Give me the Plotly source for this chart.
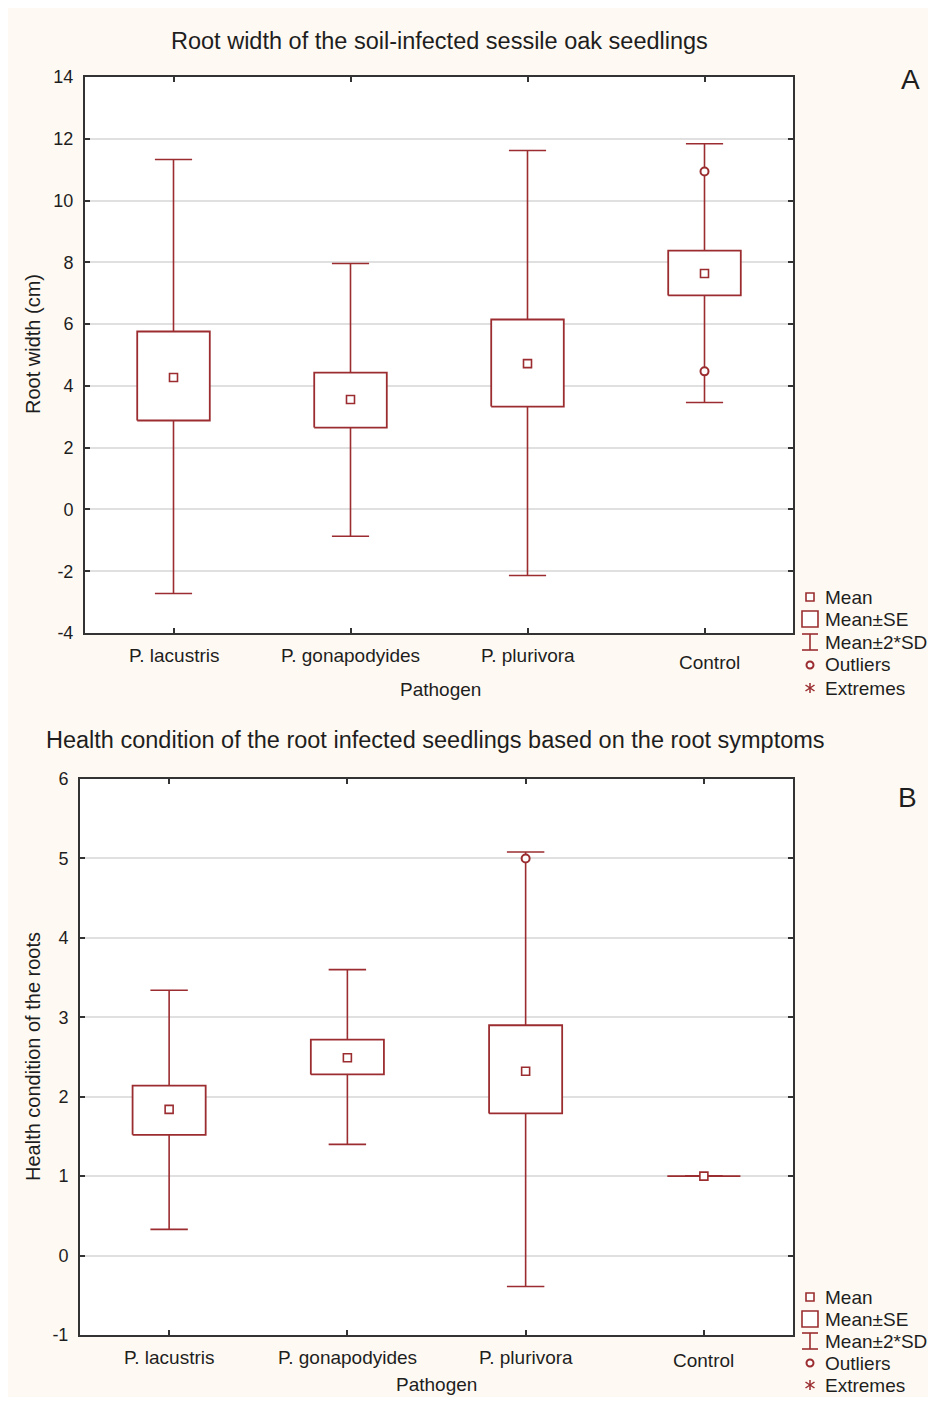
import plotly.graph_objects as go

# the figure sits at page (8, 8); plotly keeps a ~10px inset above and below the paper area
OFFX, OFFY, INSET = 8, 8, 10
W, H = 928, 1389

categories = ["P. lacustris", "P. gonapodyides", "P. plurivora", "Control"]

# Panel A: root width (cm)
a_mean = [4.27, 3.56, 4.72, 7.64]
a_se_low = [2.88, 2.65, 3.33, 6.93]
a_se_high = [5.76, 4.43, 6.15, 8.38]
a_sd_low = [-2.72, -0.87, -2.14, 3.46]
a_sd_high = [11.33, 7.96, 11.62, 11.84]
a_outlier_cat = [3, 3]
a_outlier_val = [10.94, 4.47]
a_yticks = [-4, -2, 0, 2, 4, 6, 8, 10, 12, 14]

# Panel B: health condition of the roots
b_mean = [1.84, 2.49, 2.32, 1.0]
b_se_low = [1.52, 2.28, 1.79, 1.0]
b_se_high = [2.14, 2.72, 2.90, 1.0]
b_sd_low = [0.33, 1.40, -0.39, 1.0]
b_sd_high = [3.34, 3.60, 5.08, 1.0]
b_outlier_cat = [2]
b_outlier_val = [5.0]
b_yticks = [-1, 0, 1, 2, 3, 4, 5, 6]

legend_labels = ["Mean", "Mean±SE", "Mean±2*SD", "Outliers", "Extremes"]

RED = "#9b2d30"
TXT = "#1e1e1e"
FONT = "Liberation Sans, Arial, sans-serif"
CREAM = "#fefaf3"


def px(x):
    return (x - OFFX) / W


def py(y):
    return 1 - (y - OFFY - INSET) / (H - 2 * INSET)


fig = go.Figure()

BOX_HW = 0.205
CAP_HW = 0.105


def add_panel(xa, ya, mean, se_lo, se_hi, sd_lo, sd_hi, oc, ov):
    n = len(mean)
    wx, wy = [], []
    for i in range(n):
        wx += [i, i, None, i - CAP_HW, i + CAP_HW, None, i - CAP_HW, i + CAP_HW, None]
        wy += [sd_lo[i], sd_hi[i], None, sd_hi[i], sd_hi[i], None, sd_lo[i], sd_lo[i], None]
    fig.add_trace(go.Scatter(x=wx, y=wy, mode="lines", xaxis=xa, yaxis=ya,
                             line=dict(color=RED, width=1.6), showlegend=False,
                             hoverinfo="skip"))
    for i in range(n):
        fig.add_trace(go.Scatter(
            x=[i - BOX_HW, i + BOX_HW, i + BOX_HW, i - BOX_HW, i - BOX_HW],
            y=[se_lo[i], se_lo[i], se_hi[i], se_hi[i], se_lo[i]],
            mode="lines", fill="toself", fillcolor="white",
            line=dict(color=RED, width=1.8), xaxis=xa, yaxis=ya,
            showlegend=False, hoverinfo="skip"))
    fig.add_trace(go.Scatter(x=list(range(n)), y=mean, mode="markers", xaxis=xa, yaxis=ya,
                             marker=dict(symbol="square", size=8, color="white",
                                         line=dict(color=RED, width=1.6)),
                             showlegend=False))
    fig.add_trace(go.Scatter(x=oc, y=ov, mode="markers", xaxis=xa, yaxis=ya,
                             marker=dict(symbol="circle", size=8, color="white",
                                         line=dict(color=RED, width=2)),
                             showlegend=False))


add_panel("x", "y", a_mean, a_se_low, a_se_high, a_sd_low, a_sd_high, a_outlier_cat, a_outlier_val)
add_panel("x2", "y2", b_mean, b_se_low, b_se_high, b_sd_low, b_sd_high, b_outlier_cat, b_outlier_val)

annotations = []
shapes = []


def pline(x0, y0, x1, y1, w=1.6):
    shapes.append(dict(type="line", xref="paper", yref="paper", x0=px(x0), x1=px(x1),
                       y0=py(y0), y1=py(y1), line=dict(color=RED, width=w)))


def legend_block(y_rows):
    xs = 810
    shapes.append(dict(type="rect", xref="paper", yref="paper",
                       x0=px(xs - 4), x1=px(xs + 4), y0=py(y_rows[0] + 4), y1=py(y_rows[0] - 4),
                       line=dict(color=RED, width=1.6), fillcolor="white"))
    shapes.append(dict(type="rect", xref="paper", yref="paper",
                       x0=px(802), x1=px(818), y0=py(y_rows[1] + 8), y1=py(y_rows[1] - 8),
                       line=dict(color=RED, width=1.6), fillcolor="white"))
    yt, yb = y_rows[2] - 8, y_rows[2] + 8
    pline(xs, yt, xs, yb)
    pline(802, yt, 818, yt)
    pline(802, yb, 818, yb)
    shapes.append(dict(type="circle", xref="paper", yref="paper",
                       x0=px(xs - 3.5), x1=px(xs + 3.5), y0=py(y_rows[3] + 3.5), y1=py(y_rows[3] - 3.5),
                       line=dict(color=RED, width=2), fillcolor="white"))
    ye = y_rows[4]
    pline(xs, ye - 5, xs, ye + 5, 1.5)
    pline(xs - 4.5, ye - 3, xs + 4.5, ye + 3, 1.5)
    pline(xs - 4.5, ye + 3, xs + 4.5, ye - 3, 1.5)
    for lab, yy in zip(legend_labels, y_rows):
        annotations.append(dict(text=lab, x=px(823), y=py(yy), xref="paper", yref="paper",
                                xanchor="left", yanchor="middle", showarrow=False,
                                font=dict(family=FONT, size=19, color=TXT)))


legend_block([597, 619, 642, 665, 688])
legend_block([1297, 1319, 1341, 1363, 1385])


def text(t, x, y, size=19, angle=0):
    annotations.append(dict(text=t, x=px(x), y=py(y), xref="paper", yref="paper",
                            xanchor="center", yanchor="middle", showarrow=False,
                            textangle=angle, font=dict(family=FONT, size=size, color=TXT)))


text("Root width of the soil-infected sessile oak seedlings", 439, 41, size=23.5)
text("Health condition of the root infected seedlings based on the root symptoms", 435, 740, size=23.5)
text("A", 910, 79, size=28)
text("B", 907, 797, size=28)
text("Root width (cm)", 33, 344, size=20, angle=-90)
text("Health condition of the roots", 33, 1057, size=20, angle=-90)
text("Pathogen", 440, 689)
text("Pathogen", 436, 1384)

for xa, ys, xs in [("x", [655, 655, 655, 662], [0, 0, 0, 0.03]),
                   ("x2", [1357, 1357, 1357, 1360], [0, 0, 0, 0])]:
    for i, c in enumerate(categories):
        annotations.append(dict(text=c, x=i + xs[i], y=py(ys[i]), xref=xa, yref="paper",
                                xanchor="center", yanchor="middle", showarrow=False,
                                font=dict(family=FONT, size=19, color=TXT)))

axis_common = dict(showline=True, linecolor="#333333", linewidth=2, mirror="ticks",
                   ticks="inside", ticklen=5, tickwidth=1.5, tickcolor="#333333",
                   zeroline=False)

fig.update_layout(
    width=W, height=H,
    margin=dict(l=0, r=0, t=0, b=0),
    paper_bgcolor=CREAM, plot_bgcolor="white",
    showlegend=False,
    xaxis=dict(domain=[px(85), px(793)], range=[-0.5, 3.5], anchor="y",
               tickvals=[0, 1, 2, 3], showticklabels=False, showgrid=False, **axis_common),
    yaxis=dict(domain=[py(633), py(77)], range=[-4, 14], anchor="x",
               tickvals=a_yticks, ticktext=[str(v) for v in a_yticks],
               showgrid=True, gridcolor="#e0e0e0", gridwidth=2,
               tickfont=dict(family=FONT, size=18, color=TXT), ticklabelstandoff=6,
               **axis_common),
    xaxis2=dict(domain=[px(80), px(793)], range=[-0.5, 3.5], anchor="y2",
                tickvals=[0, 1, 2, 3], showticklabels=False, showgrid=False, **axis_common),
    yaxis2=dict(domain=[py(1335), py(779)], range=[-1, 6], anchor="x2",
                tickvals=b_yticks, ticktext=[str(v) for v in b_yticks],
                showgrid=True, gridcolor="#e0e0e0", gridwidth=2,
                tickfont=dict(family=FONT, size=18, color=TXT), ticklabelstandoff=6,
                **axis_common),
    annotations=annotations,
    shapes=shapes,
)

fig.write_html("out.html")
